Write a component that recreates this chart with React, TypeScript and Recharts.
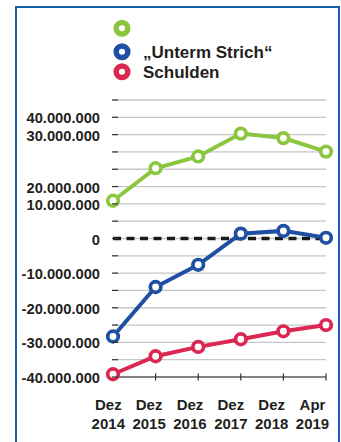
import React from 'react';
import { LineChart, Line, XAxis, YAxis, CartesianGrid, ReferenceLine, Legend } from 'recharts';

const categories = ['Dez 2014', 'Dez 2015', 'Dez 2016', 'Dez 2017', 'Dez 2018', 'Apr 2019'];
const ergebnis = [10900000, 20300000, 23700000, 30300000, 29000000, 25100000];
const untermStrich = [-28300000, -14000000, -7600000, 1400000, 2200000, 200000];
const schulden = [-39200000, -34000000, -31300000, -29100000, -26800000, -25000000];

const yTicks = [
  -40000000, -35000000, -30000000, -25000000, -20000000, -15000000, -10000000, -5000000, 0,
  5000000, 10000000, 15000000, 20000000, 25000000, 30000000, 35000000, 40000000,
];
// the original labels sit on these gridlines
const yTickLabels: Record<number, string> = {
  35000000: '40.000.000',
  30000000: '30.000.000',
  15000000: '20.000.000',
  10000000: '10.000.000',
  0: '0',
  [-10000000]: '-10.000.000',
  [-20000000]: '-20.000.000',
  [-30000000]: '-30.000.000',
  [-40000000]: '-40.000.000',
};

const series = [
  { key: 'ergebnis', label: '', color: '#8cc63f' },
  { key: 'untermStrich', label: '\u201EUnterm Strich\u201C', color: '#1e4fa2' },
  { key: 'schulden', label: 'Schulden', color: '#dc2751' },
];

const data = categories.map((cat, i) => ({
  cat,
  ergebnis: ergebnis[i],
  untermStrich: untermStrich[i],
  schulden: schulden[i],
}));

const FONT = '"Liberation Sans", Arial, Helvetica, sans-serif';
const TEXT = '#231f20';

const YTick = ({ x, y, payload }: any) => {
  const label = yTickLabels[payload.value];
  return (
    <g>
      <line x1={x - 1} x2={x + 5} y1={y} y2={y} stroke="#333" strokeWidth={1.2} />
      {label !== undefined && (
        <text x={x - 13} y={y + 6} textAnchor="end" fontFamily={FONT} fontWeight="bold" fontSize={14.7} fill={TEXT}>
          {label}
        </text>
      )}
    </g>
  );
};

const XTick = ({ x, y, payload }: any) => {
  const i = categories.indexOf(payload.value);
  const [month, year] = String(payload.value).split(' ');
  const tx = x - 4.7 - i * 1.76;
  return (
    <g>
      {i > 0 && <line x1={x} x2={x} y1={y - 3.5} y2={y + 3.5} stroke="#333" strokeWidth={1.2} />}
      <text x={tx} y={y + 33} textAnchor="middle" fontFamily={FONT} fontWeight="bold" fontSize={15} fill={TEXT}>
        {month}
      </text>
      <text x={tx} y={y + 52} textAnchor="middle" fontFamily={FONT} fontWeight="bold" fontSize={15} fill={TEXT}>
        {year}
      </text>
    </g>
  );
};

const legendY = [28.3, 51.7, 71.7];

const LegendContent = () => (
  <svg width={341} height={90} style={{ display: 'block' }}>
    {series.map((s, i) => (
      <g key={s.key}>
        <circle cx={122} cy={legendY[i]} r={5.8} fill="#fff" stroke={s.color} strokeWidth={5.5} />
        <text x={143} y={legendY[i] + 6.3} fontFamily={FONT} fontWeight="bold" fontSize={17} fill={TEXT}>
          {s.label}
        </text>
      </g>
    ))}
  </svg>
);

export default function App() {
  return (
    <div style={{ position: 'absolute', left: 0, top: 0, width: 341, height: 442, overflow: 'hidden', background: '#fff' }}>
      <div
        style={{
          position: 'absolute', left: 15, top: 6, width: 324.5, height: 460, boxSizing: 'border-box',
          border: '2.5px solid #1660a9', borderBottom: 'none',
        }}
      />
      <div style={{ position: 'absolute', left: 0, top: 0 }}>
        <LineChart width={341} height={442} data={data} margin={{ top: 100, right: 15, bottom: 0, left: 0 }}>
          <CartesianGrid vertical={false} stroke="#c6c6c6" strokeWidth={1.3} />
          <XAxis
            dataKey="cat"
            height={65}
            interval={0}
            tickSize={0}
            tickMargin={0}
            tickLine={false}
            axisLine={{ stroke: '#333', strokeWidth: 1.2 }}
            tick={<XTick />}
          />
          <YAxis
            type="number"
            domain={[-40000000, 40000000]}
            ticks={yTicks}
            interval={0}
            width={113}
            tickSize={0}
            tickMargin={0}
            tickLine={false}
            axisLine={false}
            tick={<YTick />}
          />
          <Legend
            layout="horizontal"
            verticalAlign="middle"
            align="center"
            wrapperStyle={{ top: 0, left: 0, width: 341, height: 90 }}
            content={<LegendContent />}
          />
          <ReferenceLine y={0} stroke="#1a1a1a" strokeWidth={3.3} strokeDasharray="8 5.5" />
          {series.map((s) => (
            <Line
              key={s.key}
              type="linear"
              dataKey={s.key}
              stroke={s.color}
              strokeWidth={4}
              dot={{ r: 5.3, fill: '#fff', stroke: s.color, strokeWidth: 3.7 }}
              activeDot={false}
              isAnimationActive={false}
            />
          ))}
        </LineChart>
      </div>
    </div>
  );
}
